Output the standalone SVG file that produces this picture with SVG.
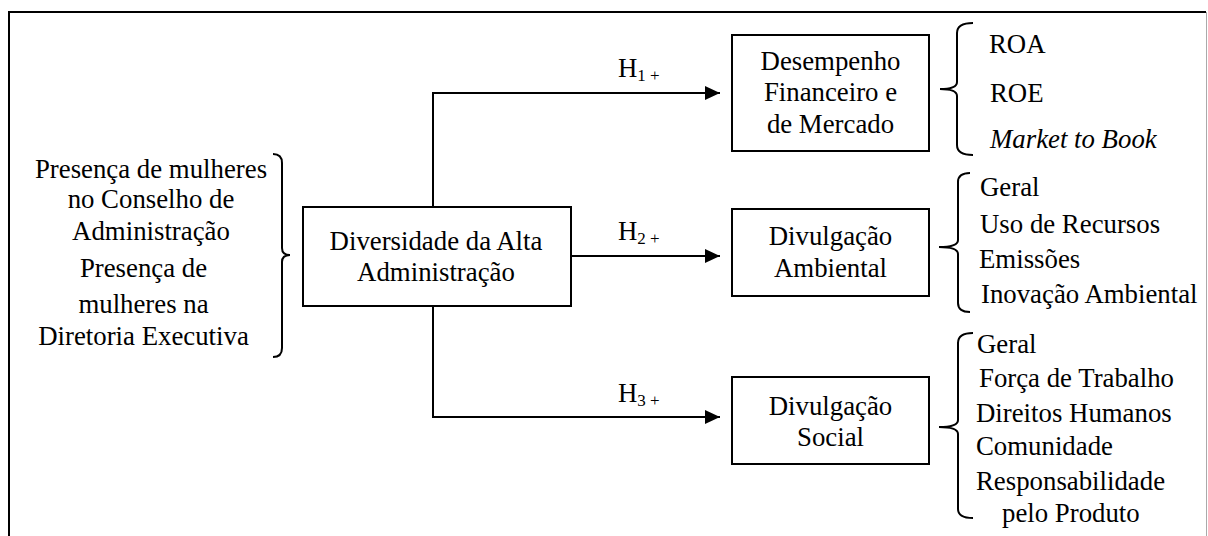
<svg xmlns="http://www.w3.org/2000/svg" width="1208" height="536" viewBox="0 0 1208 536">
<defs>
<style>
text{font-family:'Liberation Serif','Times New Roman',serif;font-size:26.8px;fill:#000}
.c{text-anchor:middle}
.box{fill:#fff;stroke:#000;stroke-width:2}
.ln{fill:none;stroke:#000;stroke-width:2}
.sub{font-size:17px}
</style>
<marker id="ah" markerUnits="userSpaceOnUse" markerWidth="15" markerHeight="14" refX="15" refY="7" orient="auto">
<path d="M0,0 L15,7 L0,14 z" fill="#000"/>
</marker>
</defs>
<rect x="0" y="0" width="1208" height="536" fill="#fff"/>
<path d="M9,536 L9,12 L1206,12" fill="none" stroke="#000" stroke-width="2"/>
<line x1="1206.5" y1="12" x2="1206.5" y2="536" stroke="#aaa" stroke-width="1"/>

<g id="connectors">
<path class="ln" d="M433,206 L433,93 L720,93" marker-end="url(#ah)"/>
<path class="ln" d="M571,256 L720,256" marker-end="url(#ah)"/>
<path class="ln" d="M433,306 L433,417 L720,417" marker-end="url(#ah)"/>
<text x="618" y="77">H<tspan class="sub" dy="4">1 +</tspan></text>
<text x="618" y="240">H<tspan class="sub" dy="4">2 +</tspan></text>
<text x="618" y="402">H<tspan class="sub" dy="4">3 +</tspan></text>
</g>

<g id="antecedentes">
<text class="c" x="151" y="178">Presença de mulheres</text>
<text class="c" x="151" y="208">no Conselho de</text>
<text class="c" x="151" y="240">Administração</text>
<text class="c" x="143.5" y="277">Presença de</text>
<text class="c" x="143.5" y="313">mulheres na</text>
<text class="c" x="143.5" y="345">Diretoria Executiva</text>
<path class="ln" d="M273,154 Q282,154 282,163 L282,248 Q282,255 290,255 Q282,255 282,262 L282,348 Q282,357 273,357"/>
</g>

<g id="diversidade">
<rect class="box" x="303" y="207" width="268" height="99"/>
<text class="c" x="436" y="250">Diversidade da Alta</text>
<text class="c" x="436" y="281">Administração</text>
</g>

<g id="desempenho">
<rect class="box" x="732" y="35" width="197" height="116"/>
<text class="c" x="830.5" y="70">Desempenho</text>
<text class="c" x="830.5" y="101">Financeiro e</text>
<text class="c" x="830.5" y="133">de Mercado</text>
<path class="ln" d="M973,23 Q957,23 957,33 L957,82 Q957,89 940,89 Q957,89 957,96 L957,145 Q957,155 973,155"/>
<text x="989" y="53">ROA</text>
<text x="990" y="102">ROE</text>
<text x="990" y="148" font-style="italic">Market to Book</text>
</g>

<g id="ambiental">
<rect class="box" x="732" y="209" width="197" height="87"/>
<text class="c" x="830.5" y="245">Divulgação</text>
<text class="c" x="830.5" y="277">Ambiental</text>
<path class="ln" d="M970,173 Q958,173 958,182 L958,240 Q958,247 939,247 Q958,247 958,254 L958,303 Q958,312 970,312"/>
<text x="980" y="196">Geral</text>
<text x="980" y="233">Uso de Recursos</text>
<text x="979" y="268">Emissões</text>
<text x="981" y="303">Inovação Ambiental</text>
</g>

<g id="social">
<rect class="box" x="732" y="377" width="197" height="87"/>
<text class="c" x="830.5" y="415">Divulgação</text>
<text class="c" x="830.5" y="446">Social</text>
<path class="ln" d="M973,333 Q958,333 958,343 L958,420 Q958,427 939,427 Q958,427 958,434 L958,509 Q958,518 973,518"/>
<text x="977" y="353">Geral</text>
<text x="979" y="387">Força de Trabalho</text>
<text x="976" y="422">Direitos Humanos</text>
<text x="976" y="455">Comunidade</text>
<text x="976" y="490">Responsabilidade</text>
<text x="1002" y="522">pelo Produto</text>
</g>
</svg>
